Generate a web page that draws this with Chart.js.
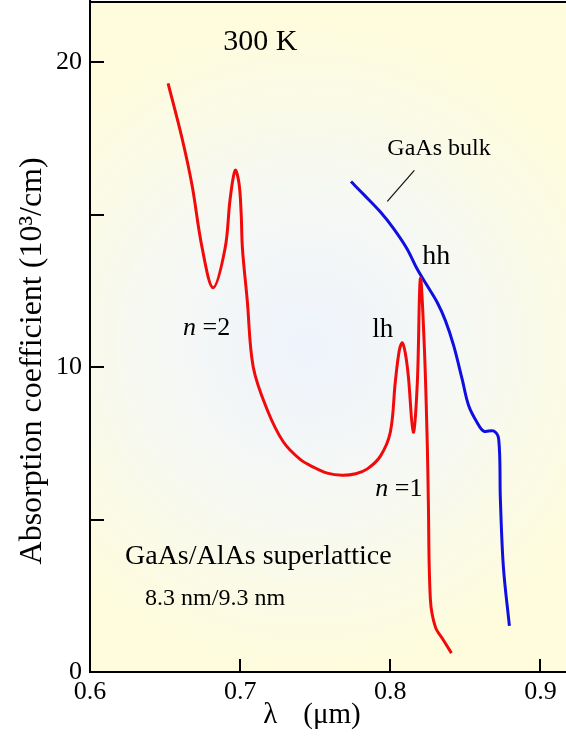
<!DOCTYPE html>
<html>
<head>
<meta charset="utf-8">
<script src="https://cdn.jsdelivr.net/npm/chart.js@4"></script>
<style>
  html, body { margin: 0; padding: 0; background: #fff; }
  #wrap { width: 566px; height: 736px; }
</style>
</head>
<body>
<div id="wrap"><canvas id="c" width="566" height="736"></canvas></div>
<script>
// GaAs/AlAs superlattice (8.3 nm / 9.3 nm), 300 K
const slWavelength = [0.652, 0.6613, 0.668, 0.6747, 0.682, 0.690, 0.6933, 0.6967, 0.6993, 0.7007, 0.7015, 0.7047, 0.7087, 0.718, 0.7287, 0.740, 0.7487, 0.758, 0.768, 0.777, 0.7847, 0.7933, 0.800, 0.8033, 0.806, 0.808, 0.810, 0.812, 0.8153, 0.818, 0.820, 0.8227, 0.8247, 0.8253, 0.8267, 0.830, 0.8353, 0.8407];
const slAlpha      = [19.3, 17.5, 15.95, 13.9, 12.6, 13.9, 15.5, 16.45, 16.0, 15.0, 13.9, 12.2, 10.0, 8.6, 7.55, 6.97, 6.72, 6.52, 6.45, 6.5, 6.66, 7.07, 7.86, 9.5, 10.55, 10.79, 10.45, 9.7, 7.86, 9.5, 12.9, 10.6, 7.3, 5.66, 2.37, 1.48, 1.05, 0.62];

// GaAs bulk
const bulkWavelength = [0.7738, 0.7822, 0.7933, 0.8022, 0.8111, 0.8178, 0.8245, 0.8311, 0.8367, 0.8422, 0.8478, 0.8522, 0.8578, 0.8622, 0.8689, 0.8722, 0.8733, 0.8753, 0.8793];
const bulkAlpha      = [16.08, 15.66, 15.09, 14.54, 13.88, 13.22, 12.67, 12.13, 11.52, 10.7, 9.61, 8.73, 8.18, 7.9, 7.9, 7.63, 5.66, 3.45, 1.51];

// leader line for the "GaAs bulk" label
const leaderWavelength = [0.798, 0.816];
const leaderAlpha = [15.43, 16.45];

const yTickValues = [0, 5, 10, 15, 20];
const yLabelValues = [0, 10, 20];
const xTickValues = [0.6, 0.7, 0.8, 0.9];

const serif = "'Liberation Serif', 'Times New Roman', serif";

function pts(xs, ys) { return xs.map((x, i) => ({ x: x, y: ys[i] })); }

const bgPlugin = {
  id: 'bg',
  beforeDraw(chart) {
    const { ctx, chartArea: a, scales } = chart;
    const cx = scales.x.getPixelForValue(0.745), cy = scales.y.getPixelForValue(10.7);
    const g = ctx.createRadialGradient(cx, cy, 0, cx, cy, 330);
    g.addColorStop(0, 'rgb(238,243,252)');
    g.addColorStop(0.45, 'rgb(246,248,244)');
    g.addColorStop(1, 'rgb(254,252,220)');
    ctx.save();
    ctx.fillStyle = g;
    ctx.fillRect(a.left, a.top, a.right - a.left, a.bottom - a.top);
    ctx.restore();
  }
};

const decorPlugin = {
  id: 'decor',
  afterDraw(chart) {
    const { ctx, chartArea: a, scales: { x, y } } = chart;
    ctx.save();
    ctx.strokeStyle = '#000';
    ctx.lineWidth = 2;
    // top frame line
    ctx.beginPath();
    ctx.moveTo(a.left, a.top + 1);
    ctx.lineTo(a.right, a.top + 1);
    ctx.stroke();
    // inward ticks
    yTickValues.forEach(v => {
      const py = Math.round(y.getPixelForValue(v));
      ctx.beginPath(); ctx.moveTo(a.left, py); ctx.lineTo(a.left + 14, py); ctx.stroke();
    });
    xTickValues.forEach(v => {
      const px = Math.round(x.getPixelForValue(v));
      ctx.beginPath(); ctx.moveTo(px, a.bottom); ctx.lineTo(px, a.bottom - 13); ctx.stroke();
    });

    ctx.fillStyle = '#000';
    ctx.textBaseline = 'alphabetic';
    ctx.textAlign = 'left';
    const put = (txt, vx, vy, size, style) => {
      ctx.font = (style || '') + ' ' + size + 'px ' + serif;
      ctx.fillText(txt, x.getPixelForValue(vx), y.getPixelForValue(vy));
      return ctx.measureText(txt).width;
    };
    put('300 K', 0.6887, 20.39, 30);
    put('GaAs bulk', 0.798, 16.94, 24);
    put('hh', 0.8213, 13.39, 28);
    put('lh', 0.788, 10.99, 27);
    let w = put('n', 0.662, 11.05, 26, 'italic');
    ctx.font = '26px ' + serif;
    ctx.fillText(' =2', x.getPixelForValue(0.662) + w, y.getPixelForValue(11.05));
    w = put('n', 0.79, 5.76, 26, 'italic');
    ctx.font = '26px ' + serif;
    ctx.fillText(' =1', x.getPixelForValue(0.79) + w, y.getPixelForValue(5.76));
    put('GaAs/AlAs superlattice', 0.6233, 3.55, 28);
    put('8.3 nm/9.3 nm', 0.6367, 2.2, 24);

    // axis titles
    ctx.font = '29px ' + serif;
    const titleY = y.bottom + 51;
    ctx.fillText('λ', x.getPixelForValue(0.7153), titleY);
    ctx.fillText('(μm)', x.getPixelForValue(0.742), titleY);

    ctx.save();
    ctx.translate(41, y.getPixelForValue(10.2));
    ctx.rotate(-Math.PI / 2);
    ctx.textAlign = 'center';
    ctx.font = '32px ' + serif;
    ctx.fillText('Absorption coefficient (10³/cm)', 0, 0);
    ctx.restore();
    ctx.restore();
  }
};

new Chart(document.getElementById('c'), {
  type: 'line',
  data: {
    datasets: [
      { data: pts(slWavelength, slAlpha), borderColor: 'rgb(240,10,10)', borderWidth: 3, tension: 0.35 },
      { data: pts(bulkWavelength, bulkAlpha), borderColor: 'rgb(15,15,225)', borderWidth: 3, tension: 0.35 },
      { data: pts(leaderWavelength, leaderAlpha), borderColor: '#111', borderWidth: 1.2 }
    ]
  },
  options: {
    responsive: false,
    animation: false,
    events: [],
    layout: { padding: { top: 1, right: 0, left: 0, bottom: 0 } },
    elements: { point: { radius: 0 } },
    plugins: { legend: { display: false }, tooltip: { enabled: false } },
    scales: {
      x: {
        type: 'linear',
        min: 0.6, max: 0.917,
        afterFit: s => { s.height = 64; s.paddingLeft = 0; s.paddingRight = 0; },
        afterBuildTicks: s => { s.ticks = xTickValues.map(v => ({ value: v })); },
        grid: { display: false, drawTicks: false },
        border: { color: '#000', width: 2 },
        ticks: { padding: 5, color: '#000', font: { family: serif, size: 26 }, callback: v => v.toFixed(1) }
      },
      y: {
        type: 'linear',
        min: 0, max: 22,
        afterFit: s => { s.width = 90; s.paddingTop = 0; s.paddingBottom = 0; },
        afterBuildTicks: s => { s.ticks = yLabelValues.map(v => ({ value: v })); },
        grid: { display: false, drawTicks: false },
        border: { color: '#000', width: 2 },
        ticks: { padding: 8, color: '#000', font: { family: serif, size: 26 }, callback: v => String(v) }
      }
    }
  },
  plugins: [bgPlugin, decorPlugin]
});
</script>
</body>
</html>
